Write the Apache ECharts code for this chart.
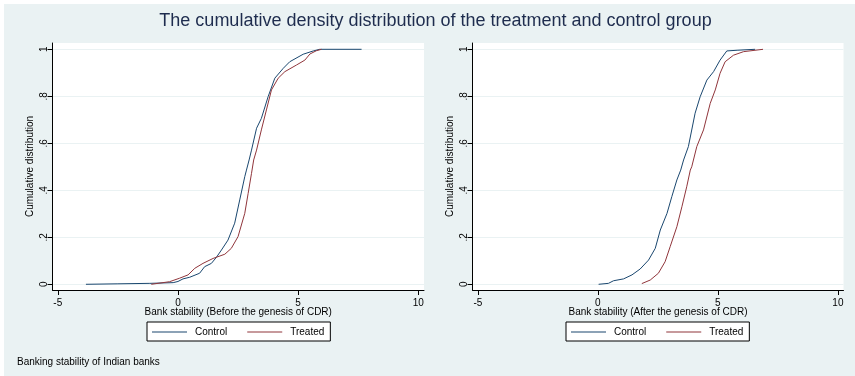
<!DOCTYPE html>
<html>
<head>
<meta charset="utf-8">
<script src="https://cdn.jsdelivr.net/npm/echarts@6/dist/echarts.min.js"></script>
<style>
  html, body { margin: 0; padding: 0; background: #ffffff; }
  #chart { width: 855px; height: 376px; }
</style>
</head>
<body>
<div id="chart"></div>
<script>
// ECDF points: [bank stability, cumulative share]
var beforeControl = [[-3.83,0],[-2.5,0.002],[-1.17,0.004],[-0.2,0.007],[0.0,0.012],[0.21,0.023],[0.49,0.03],[0.9,0.047],[1.11,0.075],[1.39,0.089],[1.6,0.115],[1.81,0.146],[2.08,0.188],[2.36,0.26],[2.57,0.359],[2.78,0.458],[2.85,0.486],[2.96,0.529],[3.06,0.571],[3.27,0.664],[3.47,0.706],[3.75,0.798],[4.03,0.877],[4.38,0.919],[4.65,0.947],[5.21,0.979],[5.63,0.993],[5.9,1.0],[7.64,1.0]];
var beforeTreated = [[-1.11,0],[-0.35,0.011],[0.07,0.026],[0.42,0.04],[0.7,0.068],[1.04,0.089],[1.46,0.11],[1.95,0.128],[2.22,0.153],[2.5,0.203],[2.78,0.302],[2.92,0.387],[3.06,0.472],[3.15,0.529],[3.27,0.571],[3.47,0.657],[3.68,0.742],[3.89,0.827],[4.17,0.877],[4.45,0.905],[4.93,0.933],[5.28,0.954],[5.49,0.98],[5.76,0.994],[5.97,1.0]];
var afterControl = [[0.03,0],[0.44,0.004],[0.65,0.015],[1.07,0.023],[1.42,0.04],[1.76,0.065],[2.11,0.103],[2.39,0.153],[2.6,0.231],[2.88,0.302],[3.08,0.373],[3.29,0.444],[3.45,0.486],[3.57,0.529],[3.77,0.586],[4.05,0.728],[4.26,0.798],[4.54,0.869],[4.82,0.905],[5.09,0.954],[5.37,0.993],[5.8,0.996],[6.55,1.0]];
var afterTreated = [[1.83,0.003],[2.18,0.018],[2.52,0.047],[2.8,0.096],[3.01,0.16],[3.29,0.245],[3.5,0.33],[3.7,0.415],[3.85,0.486],[3.91,0.5],[4.12,0.586],[4.4,0.657],[4.68,0.77],[4.89,0.827],[5.09,0.898],[5.3,0.947],[5.65,0.975],[6.07,0.99],[6.88,1.0]];

var xTicks = [-5, 0, 5, 10];
var yTicks = [0, 0.2, 0.4, 0.6, 0.8, 1];
var yTickLabels = ['0', '.2', '.4', '.6', '.8', '1'];
var groupNames = ['Control', 'Treated'];

var FONT = 'Liberation Sans, Arial, sans-serif';
var NAVY = '#1a476f';
var MAROON = '#90353b';

var chart = echarts.init(document.getElementById('chart'));

function xAxisFor(gridIndex, name, min, max) {
  return {
    type: 'value', gridIndex: gridIndex, min: min, max: max,
    name: name, nameLocation: 'middle', nameGap: 17, nameMoveOverlap: false,
    nameTextStyle: { color: '#000', fontSize: 10, fontFamily: FONT },
    axisLine: { show: true, onZero: false, lineStyle: { color: '#000', width: 1 } },
    axisTick: { show: true, length: 5, customValues: xTicks, lineStyle: { color: '#000' } },
    axisLabel: { customValues: xTicks, margin: 8, color: '#000', fontSize: 10, fontFamily: FONT },
    splitLine: { show: false }
  };
}

function yAxisFor(gridIndex) {
  return {
    type: 'value', gridIndex: gridIndex, min: -0.0243, max: 1.0268,
    name: 'Cumulative distribution', nameLocation: 'middle', nameGap: 17, nameMoveOverlap: false,
    nameTextStyle: { color: '#000', fontSize: 10, fontFamily: FONT },
    axisLine: { show: true, onZero: false, lineStyle: { color: '#000', width: 1 } },
    axisTick: { show: true, length: 5, customValues: yTicks, lineStyle: { color: '#000' } },
    axisLabel: {
      customValues: yTicks, rotate: 90, margin: 3, color: '#000', fontSize: 10, fontFamily: FONT,
      formatter: function (v) { var i = yTicks.indexOf(v); return i >= 0 ? yTickLabels[i] : ''; }
    },
    splitLine: { show: true, lineStyle: { color: '#eaf2f3', width: 1 } }
  };
}

function legendAt(left) {
  return {
    left: left, top: 322, orient: 'horizontal',
    data: groupNames,
    icon: 'path://M0,0L35,0L35,1L0,1Z',
    itemWidth: 35, itemHeight: 1, itemGap: 20,
    padding: [4, 6, 3, 5],
    backgroundColor: '#ffffff', borderColor: '#000', borderWidth: 1, borderRadius: 0,
    textStyle: { color: '#000', fontSize: 10, fontFamily: FONT, lineHeight: 12, padding: [0, 0, 0, 3] }
  };
}

function lineSeries(name, data, color, idx) {
  return {
    name: name, type: 'line', data: data, xAxisIndex: idx, yAxisIndex: idx,
    symbol: 'none', smooth: false, animation: false,
    lineStyle: { color: color, width: 1 }, itemStyle: { color: color }
  };
}

chart.setOption({
  backgroundColor: '#ffffff',
  animation: false,
  graphic: [
    { type: 'rect', shape: { x: 4, y: 4, width: 851, height: 372 }, style: { fill: '#eaf2f3' }, z: -10 },
    { type: 'text', x: 435.5, y: 21.5,
      style: { text: 'The cumulative density distribution of the treatment and control group',
               fill: '#1e2c4e', fontSize: 18, fontFamily: FONT, align: 'center', verticalAlign: 'middle' } },
    { type: 'text', x: 17, y: 362,
      style: { text: 'Banking stability of Indian banks', fill: '#000', fontSize: 10, fontFamily: FONT,
               align: 'left', verticalAlign: 'middle' } }
  ],
  grid: [
    { left: 52.5, top: 43, width: 371.5, height: 247, show: true, backgroundColor: '#ffffff', borderWidth: 0 },
    { left: 472.5, top: 43, width: 371, height: 247, show: true, backgroundColor: '#ffffff', borderWidth: 0 }
  ],
  xAxis: [
    xAxisFor(0, 'Bank stability (Before the genesis of CDR)', -5.221, 10.2375),
    xAxisFor(1, 'Bank stability (After the genesis of CDR)', -5.225, 10.233)
  ],
  yAxis: [yAxisFor(0), yAxisFor(1)],
  legend: [legendAt(147), legendAt(566)],
  series: [
    lineSeries('Control', beforeControl, NAVY, 0),
    lineSeries('Treated', beforeTreated, MAROON, 0),
    lineSeries('Control', afterControl, NAVY, 1),
    lineSeries('Treated', afterTreated, MAROON, 1)
  ]
});
</script>
</body>
</html>
